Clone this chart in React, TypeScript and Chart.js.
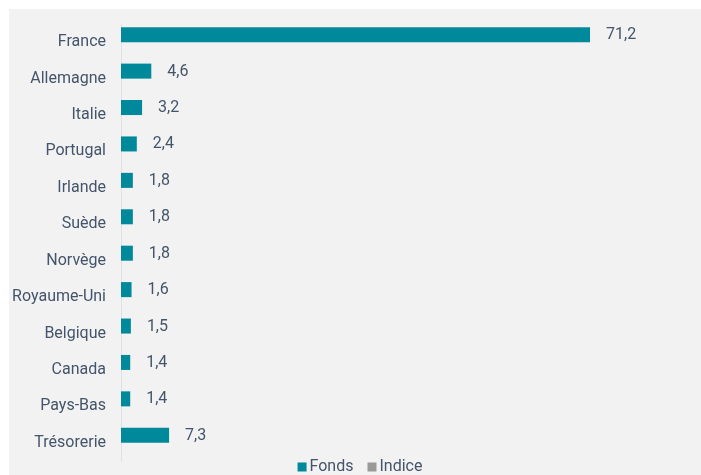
import React, { useEffect, useRef } from "react";
import { Chart, registerables } from "chart.js";

Chart.register(...registerables);

const categories = [
  "France",
  "Allemagne",
  "Italie",
  "Portugal",
  "Irlande",
  "Suède",
  "Norvège",
  "Royaume-Uni",
  "Belgique",
  "Canada",
  "Pays-Bas",
  "Trésorerie",
];
const fondsValues = [71.2, 4.6, 3.2, 2.4, 1.8, 1.8, 1.8, 1.6, 1.5, 1.4, 1.4, 7.3];
const indiceValues: (number | null)[] = [null, null, null, null, null, null, null, null, null, null, null, null];
const seriesLabels = ["Fonds", "Indice"];

const TEAL = "#00899b";
const GREY = "#999999";
const TEXT = "#44546a";
const BG = "#f2f2f2";
const FONT = "Roboto, 'Noto Sans', sans-serif";

const valueLabelPlugin = {
  id: "valueLabels",
  afterDatasetsDraw(chart: any) {
    const ctx = chart.ctx;
    const meta = chart.getDatasetMeta(0);
    const data = chart.data.datasets[0].data as number[];
    ctx.save();
    ctx.font = `16px ${FONT}`;
    ctx.fillStyle = TEXT;
    ctx.textAlign = "left";
    ctx.textBaseline = "middle";
    meta.data.forEach((el: any, i: number) => {
      const v = data[i];
      if (v == null) return;
      ctx.fillText(v.toFixed(1).replace(".", ","), el.x + 16, el.y + 0.5);
    });
    ctx.restore();
  },
};

const customLegendPlugin = {
  id: "customLegend",
  afterDraw(chart: any) {
    const ctx = chart.ctx;
    const ds = chart.data.datasets;
    ctx.save();
    ctx.font = `16px ${FONT}`;
    ctx.textBaseline = "middle";
    ctx.textAlign = "left";
    const box = 9;
    const gap = 3;
    const spacing = 14;
    const widths = ds.map((d: any) => box + gap + ctx.measureText(d.label).width);
    const total = widths.reduce((a: number, b: number) => a + b, 0) + spacing * (ds.length - 1);
    const cx = 351;
    const cy = chart.chartArea.bottom + 6;
    let x = cx - total / 2;
    ds.forEach((d: any, i: number) => {
      ctx.fillStyle = d.backgroundColor;
      ctx.fillRect(x, cy - box / 2, box, box);
      ctx.fillStyle = TEXT;
      ctx.fillText(d.label, x + box + gap, cy);
      x += widths[i] + spacing;
    });
    ctx.restore();
  },
};

export default function App() {
  const canvasRef = useRef<HTMLCanvasElement | null>(null);

  useEffect(() => {
    if (!canvasRef.current) return;
    const chart = new Chart(canvasRef.current, {
      type: "bar",
      data: {
        labels: categories,
        datasets: [
          {
            label: seriesLabels[0],
            data: fondsValues,
            backgroundColor: TEAL,
            borderWidth: 0,
            categoryPercentage: 0.825,
            barPercentage: 1.0,
          },
          {
            label: seriesLabels[1],
            data: indiceValues,
            backgroundColor: GREY,
            borderWidth: 0,
            categoryPercentage: 0.825,
            barPercentage: 1.0,
          },
        ],
      },
      options: {
        indexAxis: "y",
        responsive: false,
        animation: false,
        layout: { padding: { top: 15, bottom: 14, left: 0, right: 53 } },
        plugins: {
          legend: { display: false },
          tooltip: { enabled: false },
        },
        scales: {
          x: {
            display: false,
            min: 0,
            max: 80,
          },
          y: {
            grid: { display: false, drawTicks: false },
            border: { display: true, color: "#dbe2ea", width: 1 },
            ticks: {
              color: TEXT,
              padding: 15,
              font: { family: FONT, size: 16 },
            },
            afterFit: (scale: any) => {
              scale.width = 112;
              scale.paddingTop = 0;
              scale.paddingBottom = 0;
            },
          },
        },
      },
      plugins: [valueLabelPlugin, customLegendPlugin],
    });
    return () => chart.destroy();
  }, []);

  return (
    <div
      style={{
        position: "fixed",
        left: 9,
        top: 9,
        width: 692,
        height: 466,
        background: BG,
      }}
    >
      <canvas ref={canvasRef} width={692} height={466} />
    </div>
  );
}
